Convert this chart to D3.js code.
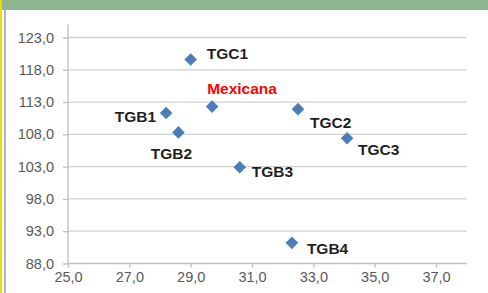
<!DOCTYPE html>
<html>
<head>
<meta charset="utf-8">
<script src="https://cdn.jsdelivr.net/npm/d3@7"></script>
<style>
  html, body { margin: 0; padding: 0; background: #ffffff; }
  svg { display: block; }
</style>
</head>
<body>
<svg id="chart" width="488" height="293"></svg>
<script>
// ---- data ----
const names = ["TGC1", "Mexicana", "TGB1", "TGB2", "TGC2", "TGB3", "TGC3", "TGB4"];
const xValues = [29.0, 29.7, 28.2, 28.6, 32.5, 30.6, 34.1, 32.3];
const yValues = [119.6, 112.3, 111.3, 108.3, 111.9, 102.9, 107.4, 91.2];
const xTicks = [25, 27, 29, 31, 33, 35, 37];
const yTicks = [88, 93, 98, 103, 108, 113, 118, 123];

// label placement (presentation only): dx, dy from the marker, anchor
const labelPlacement = {
  "TGC1":     { dx: 16,  dy: 0,   anchor: "start" },
  "Mexicana": { dx: -5,  dy: -13, anchor: "start" },
  "TGB1":     { dx: -10, dy: 9,   anchor: "end" },
  "TGB2":     { dx: -7,  dy: 27,  anchor: "middle" },
  "TGC2":     { dx: 12,  dy: 19,  anchor: "start" },
  "TGB3":     { dx: 12,  dy: 10,  anchor: "start" },
  "TGC3":     { dx: 11,  dy: 17,  anchor: "start" },
  "TGB4":     { dx: 15,  dy: 11,  anchor: "start" }
};

(function () {
const points = names.map((n, i) => ({ name: n, x: xValues[i], y: yValues[i] }));

const svg = d3.select("#chart");

// frame decorations
svg.append("rect").attr("x", 0).attr("y", 0).attr("width", 488).attr("height", 10).attr("fill", "#8db68f");
svg.append("rect").attr("x", 0).attr("y", 0).attr("width", 2).attr("height", 293).attr("fill", "#e8dc10");
svg.append("rect").attr("x", 4).attr("y", 10).attr("width", 2).attr("height", 283).attr("fill", "#b4b4b4");

const pLeft = 68, pRight = 466.7, pTop = 37.5, pBottom = 263.5;
const x = d3.scaleLinear().domain([25, 38]).range([pLeft, pRight]);
const y = d3.scaleLinear().domain([88, 123]).range([pBottom, pTop]);

const fmt = d => d.toFixed(1).replace(".", ",");

// gridlines
svg.append("g")
  .selectAll("line")
  .data(yTicks.filter(t => t !== 88))
  .join("line")
  .attr("x1", pLeft).attr("x2", pRight)
  .attr("y1", d => y(d)).attr("y2", d => y(d))
  .attr("stroke", "#d0d0d0").attr("stroke-width", 1.3);

// y axis
const yAxis = svg.append("g")
  .attr("transform", `translate(${pLeft},0)`)
  .call(d3.axisLeft(y).tickValues(yTicks).tickFormat(fmt).tickSize(5).tickPadding(9));
// x axis
const xAxis = svg.append("g")
  .attr("transform", `translate(0,${pBottom})`)
  .call(d3.axisBottom(x).tickValues(xTicks).tickFormat(fmt).tickSize(4).tickPadding(4));

[yAxis, xAxis].forEach(g => {
  g.select(".domain").attr("stroke", "#bfbfbf").attr("stroke-width", 1.3);
  g.selectAll(".tick line").attr("stroke", "#bfbfbf").attr("stroke-width", 1.3);
  g.selectAll(".tick text")
    .attr("fill", "#595959")
    .style("font-family", "'Liberation Sans', Arial, sans-serif")
    .style("font-size", "14.5px");
});
xAxis.select(".domain").attr("d", `M${pLeft},0H${pRight}`);
yAxis.select(".domain").attr("d", `M0,${pBottom}V${pTop - 13}`);

// markers
svg.append("g")
  .selectAll("path")
  .data(points)
  .join("path")
  .attr("transform", d => `translate(${x(d.x)},${y(d.y)})`)
  .attr("d", "M0,-6.3L6.3,0L0,6.3L-6.3,0Z")
  .attr("fill", "#4a7ebb");

// labels
svg.append("g")
  .selectAll("text")
  .data(points)
  .join("text")
  .attr("x", d => x(d.x) + labelPlacement[d.name].dx)
  .attr("y", d => y(d.y) + labelPlacement[d.name].dy)
  .attr("text-anchor", d => labelPlacement[d.name].anchor)
  .attr("fill", d => d.name === "Mexicana" ? "#ff0000" : "#1f1f1f")
  .style("font-family", "'Liberation Sans', Arial, sans-serif")
  .style("font-weight", "bold")
  .style("font-size", "15.5px")
  .text(d => d.name);
})();
</script>
</body>
</html>
